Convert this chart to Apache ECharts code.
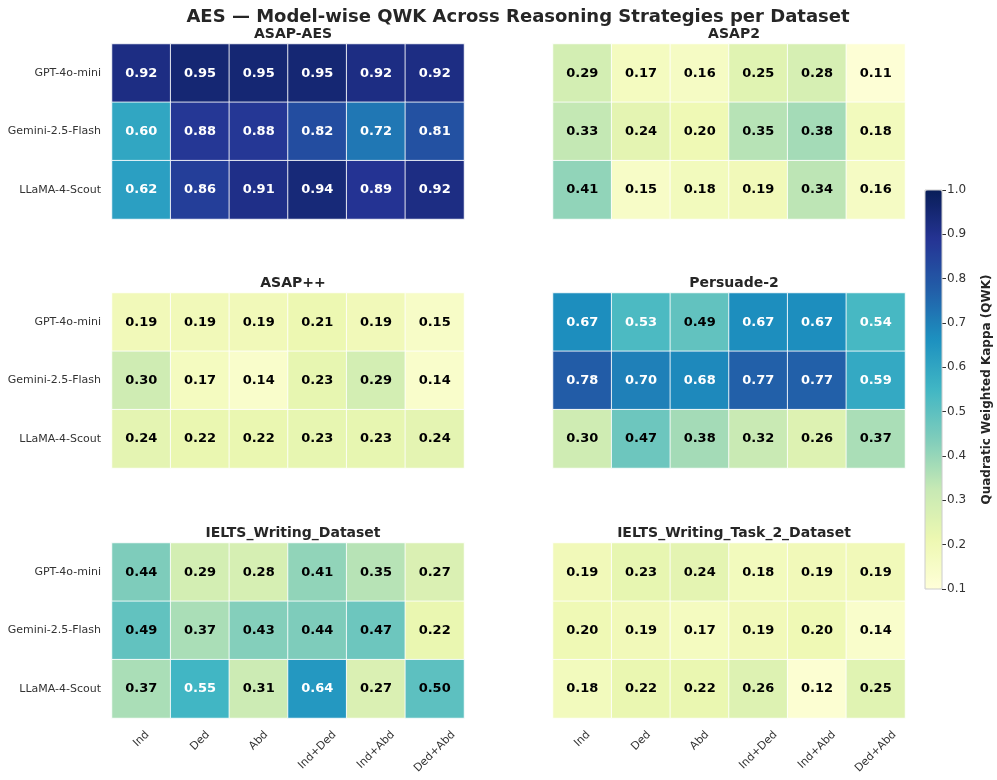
<!DOCTYPE html>
<html>
<head>
<meta charset="utf-8">
<script src="https://cdn.jsdelivr.net/npm/echarts@6/dist/echarts.min.js"></script>
<style>
  html, body { margin: 0; padding: 0; background: #fff; }
  #main { width: 997px; height: 780px; }
</style>
</head>
<body>
<div id="main"></div>
<script>
var strategies = ['Ind', 'Ded', 'Abd', 'Ind+Ded', 'Ind+Abd', 'Ded+Abd'];
var models = ['GPT-4o-mini', 'Gemini-2.5-Flash', 'LLaMA-4-Scout'];
var datasetNames = ['ASAP-AES', 'ASAP2', 'ASAP++', 'Persuade-2', 'IELTS_Writing_Dataset', 'IELTS_Writing_Task_2_Dataset'];

// rows = models, cols = strategies
var asapAes = [
  [0.92, 0.95, 0.95, 0.95, 0.92, 0.92],
  [0.60, 0.88, 0.88, 0.82, 0.72, 0.81],
  [0.62, 0.86, 0.91, 0.94, 0.89, 0.92]
];
var asap2 = [
  [0.29, 0.17, 0.16, 0.25, 0.28, 0.11],
  [0.33, 0.24, 0.20, 0.35, 0.38, 0.18],
  [0.41, 0.15, 0.18, 0.19, 0.34, 0.16]
];
var asapPP = [
  [0.19, 0.19, 0.19, 0.21, 0.19, 0.15],
  [0.30, 0.17, 0.14, 0.23, 0.29, 0.14],
  [0.24, 0.22, 0.22, 0.23, 0.23, 0.24]
];
var persuade2 = [
  [0.67, 0.53, 0.49, 0.67, 0.67, 0.54],
  [0.78, 0.70, 0.68, 0.77, 0.77, 0.59],
  [0.30, 0.47, 0.38, 0.32, 0.26, 0.37]
];
var ieltsWriting = [
  [0.44, 0.29, 0.28, 0.41, 0.35, 0.27],
  [0.49, 0.37, 0.43, 0.44, 0.47, 0.22],
  [0.37, 0.55, 0.31, 0.64, 0.27, 0.50]
];
var ieltsTask2 = [
  [0.19, 0.23, 0.24, 0.18, 0.19, 0.19],
  [0.20, 0.19, 0.17, 0.19, 0.20, 0.14],
  [0.18, 0.22, 0.22, 0.26, 0.12, 0.25]
];
var allData = [asapAes, asap2, asapPP, persuade2, ieltsWriting, ieltsTask2];

var ylgnbu = ['#ffffd9', '#edf8b1', '#c7e9b4', '#7fcdbb', '#41b6c4', '#1d91c0', '#225ea8', '#253494', '#081d58'];

var chart = echarts.init(document.getElementById('main'));
var FONT = 'DejaVu Sans';

// measure tick label widths so rotated labels hang from a common top line (like matplotlib)
var ctx = document.createElement('canvas').getContext('2d');
ctx.font = '11px "DejaVu Sans"';
var minW = Math.min.apply(null, strategies.map(function (s) { return ctx.measureText(s).width; }));
var xRich = {};
strategies.forEach(function (s, k) {
  var p = Math.max(0, (ctx.measureText(s).width - minW) / 2);
  xRich['s' + k] = { fontFamily: FONT, fontSize: 11, color: '#333', padding: [p, p, 0, 0] };
});

var lefts = [112, 553];
var tops = [44, 293, 543];
var gw = 352, gh = 175;

var grids = [], xAxes = [], yAxes = [], series = [];
var titles = [{
  text: 'AES \u2014 Model-wise QWK Across Reasoning Strategies per Dataset',
  left: 513, top: 3, textAlign: 'center',
  textStyle: { fontFamily: FONT, fontSize: 18, fontWeight: 'bold', color: '#262626' }
}];

for (var i = 0; i < 6; i++) {
  var col = i % 2, row = Math.floor(i / 2);
  grids.push({ left: lefts[col], top: tops[row], width: gw, height: gh });
  titles.push({
    text: datasetNames[i],
    left: lefts[col] + gw / 2, top: tops[row] - 22, textAlign: 'center',
    textStyle: { fontFamily: FONT, fontSize: 14, fontWeight: 'bold', color: '#262626' }
  });
  xAxes.push({
    type: 'category', gridIndex: i, data: strategies,
    axisLine: { show: false }, axisTick: { show: false }, splitArea: { show: false },
    axisLabel: {
      show: row === 2, rotate: 45, margin: 21, align: 'center', verticalAlign: 'middle',
      fontFamily: FONT, fontSize: 11, color: '#333', rich: xRich,
      formatter: function (v, idx) { return '{s' + idx + '|' + v + '}'; }
    }
  });
  yAxes.push({
    type: 'category', gridIndex: i, data: models, inverse: true,
    axisLine: { show: false }, axisTick: { show: false }, splitArea: { show: false },
    axisLabel: { show: col === 0, margin: 11, fontFamily: FONT, fontSize: 11, color: '#333' }
  });
  var cells = [];
  var mat = allData[i];
  for (var r = 0; r < models.length; r++) {
    for (var c = 0; c < strategies.length; c++) {
      cells.push([c, r, mat[r][c]]);
    }
  }
  series.push({
    type: 'heatmap', xAxisIndex: i, yAxisIndex: i, data: cells,
    itemStyle: { borderColor: 'rgba(255,255,255,0.85)', borderWidth: 1 },
    label: {
      show: true,
      formatter: function (p) {
        var v = p.value[2];
        return (v > 0.51 ? '{w|' : '{k|') + v.toFixed(2) + '}';
      },
      rich: {
        w: { fontFamily: FONT, fontSize: 13, fontWeight: 'bold', color: '#ffffff' },
        k: { fontFamily: FONT, fontSize: 13, fontWeight: 'bold', color: '#000000' }
      }
    },
    emphasis: { disabled: true }
  });
}

// colorbar axis
grids.push({ left: 925, top: 190, width: 17, height: 399, show: true, borderColor: '#ccc', borderWidth: 1, z: 10, backgroundColor: 'transparent' });
xAxes.push({ type: 'category', gridIndex: 6, data: [''], show: false });
yAxes.push({
  type: 'value', gridIndex: 6, min: 0.1, max: 1.0, interval: 0.1, position: 'right',
  axisLine: { show: false }, splitLine: { show: false },
  axisTick: { show: true, length: 4, lineStyle: { color: '#333' } },
  axisLabel: { fontFamily: FONT, fontSize: 12, color: '#333', margin: 5,
    formatter: function (v) { return v.toFixed(1); } },
  name: 'Quadratic Weighted Kappa (QWK)', nameLocation: 'middle', nameRotate: 90, nameGap: 39,
  nameTextStyle: { fontFamily: FONT, fontSize: 12, fontWeight: 'bold', color: '#262626' }
});

var option = {
  backgroundColor: '#fff',
  animation: false,
  title: titles,
  grid: grids,
  xAxis: xAxes,
  yAxis: yAxes,
  visualMap: {
    type: 'continuous', min: 0.1, max: 1.0, dimension: 2,
    seriesIndex: [0, 1, 2, 3, 4, 5],
    orient: 'vertical', left: 925, top: 190, padding: 0,
    itemWidth: 17, itemHeight: 399,
    calculable: false, hoverLink: false, text: null,
    inRange: { color: ylgnbu }
  },
  series: series
};

chart.setOption(option);
</script>
</body>
</html>
